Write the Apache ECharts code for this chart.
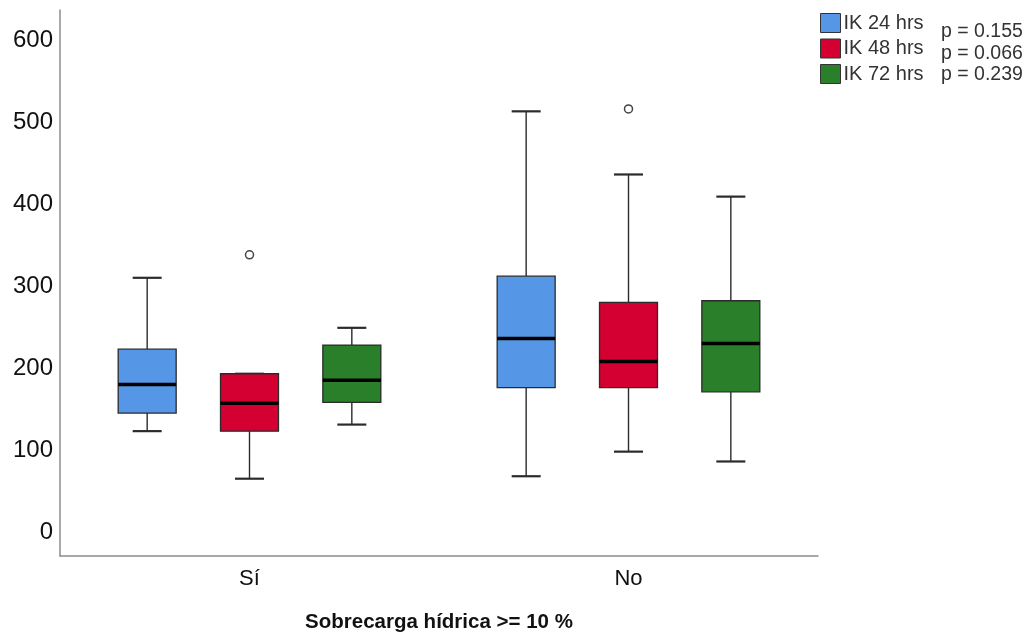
<!DOCTYPE html>
<html>
<head>
<meta charset="utf-8">
<script src="https://cdn.jsdelivr.net/npm/echarts@6/dist/echarts.min.js"></script>
<style>html,body{margin:0;padding:0;background:#fff}#c{width:1032px;height:638px}</style>
</head>
<body>
<div id="c"></div>
<script>
const categories = ['Sí', 'No'];
const seriesNames = ['IK 24 hrs', 'IK 48 hrs', 'IK 72 hrs'];
const pValues = ['p = 0.155', 'p = 0.066', 'p = 0.239'];
const xAxisTitle = 'Sobrecarga hídrica >= 10 %';
// [min, Q1, median, Q3, max] per category
const ik24 = [[123, 145, 180, 223, 310], [68, 176, 236, 312, 513]];
const ik48 = [[65, 123, 157, 193, 193], [98, 176, 208, 280, 436]];
const ik72 = [[131, 158, 185, 228, 249], [86, 171, 230, 282, 409]];
// outliers: [categoryIndex, value]
const out24 = [];
const out48 = [[0, 338], [1, 516]];
const out72 = [];

const colors = ['#5596E6', '#D50032', '#2A7F2A'];
const FONT = 'Liberation Sans, Arial, sans-serif';

function boxRender(k) {
  return function (params, api) {
    const cat = api.value(0);
    const band = api.size([1, 0])[0];
    const cx = api.coord([cat, 0])[0] + k * band * 0.27;
    const w = band * 0.153;
    const cap = w / 4;
    const y = i => api.coord([cat, api.value(i)])[1];
    const yMin = y(1), yQ1 = y(2), yMed = y(3), yQ3 = y(4), yMax = y(5);
    const ls = { stroke: '#2b2b2b', lineWidth: 1.4 };
    return {
      type: 'group',
      children: [
        { type: 'line', shape: { x1: cx, y1: yQ3, x2: cx, y2: yMax }, style: ls },
        { type: 'line', shape: { x1: cx, y1: yQ1, x2: cx, y2: yMin }, style: ls },
        { type: 'line', shape: { x1: cx - cap, y1: yMax, x2: cx + cap, y2: yMax }, style: { stroke: '#2b2b2b', lineWidth: 2.2 } },
        { type: 'line', shape: { x1: cx - cap, y1: yMin, x2: cx + cap, y2: yMin }, style: { stroke: '#2b2b2b', lineWidth: 2.2 } },
        { type: 'rect', shape: { x: cx - w / 2, y: yQ3, width: w, height: yQ1 - yQ3 },
          style: { fill: api.visual('color'), stroke: '#2b2b2b', lineWidth: 1.3 } },
        { type: 'line', shape: { x1: cx - w / 2, y1: yMed, x2: cx + w / 2, y2: yMed }, style: { stroke: '#000', lineWidth: 3.5 } }
      ]
    };
  };
}
function outRender(k) {
  return function (params, api) {
    const cat = api.value(0);
    const band = api.size([1, 0])[0];
    const p = api.coord([cat, api.value(1)]);
    return { type: 'circle', shape: { cx: p[0] + k * band * 0.27, cy: p[1], r: 4 },
      style: { fill: '#fff', stroke: '#444', lineWidth: 1.5 } };
  };
}

const boxData = [ik24, ik48, ik72];
const outData = [out24, out48, out72];
const series = [];
seriesNames.forEach((name, i) => {
  series.push({
    name, type: 'custom', xAxisIndex: 0, yAxisIndex: 0, clip: false,
    itemStyle: { color: colors[i] },
    renderItem: boxRender(i - 1),
    encode: { x: 0, y: [1, 2, 3, 4, 5] },
    data: boxData[i].map((d, c) => [c].concat(d))
  });
});
seriesNames.forEach((name, i) => {
  series.push({
    name, type: 'custom', xAxisIndex: 0, yAxisIndex: 0, clip: false,
    itemStyle: { color: colors[i] },
    renderItem: outRender(i - 1),
    encode: { x: 0, y: 1 },
    data: outData[i]
  });
});

const chart = echarts.init(document.getElementById('c'), null, { renderer: 'canvas' });
chart.setOption({
  animation: false,
  textStyle: { fontFamily: FONT },
  grid: [
    { left: 60, right: 214, top: 40, bottom: 106 },
    { left: 60, right: 214, top: 10, bottom: 81 }
  ],
  xAxis: [
    { type: 'category', gridIndex: 0, data: categories, show: false },
    { type: 'category', gridIndex: 1, data: categories,
      axisLine: { show: true, onZero: false, lineStyle: { color: '#8c8c8c', width: 1.5 } },
      axisTick: { show: false },
      axisLabel: { fontSize: 22, color: '#111', margin: 12, fontFamily: FONT },
      name: xAxisTitle, nameLocation: 'middle', nameGap: 56,
      nameTextStyle: { fontSize: 20.5, fontWeight: 'bold', color: '#111', fontFamily: FONT } }
  ],
  yAxis: [
    { type: 'value', gridIndex: 0, min: 0, max: 600, interval: 100,
      axisLine: { show: false }, axisTick: { show: false }, splitLine: { show: false },
      axisLabel: { fontSize: 24, color: '#111', margin: 7, fontFamily: FONT } },
    { type: 'value', gridIndex: 1, min: 0, max: 1,
      axisLine: { show: true, lineStyle: { color: '#8c8c8c', width: 1.5 } },
      axisTick: { show: false }, splitLine: { show: false }, axisLabel: { show: false } }
  ],
  legend: {
    data: seriesNames, orient: 'vertical', left: 820, top: 13, padding: 0,
    itemWidth: 20, itemHeight: 19, itemGap: 5.5, icon: 'rect',
    itemStyle: { borderColor: '#333', borderWidth: 1 },
    textStyle: { fontSize: 20, color: '#333', fontFamily: FONT, padding: [0, 0, 0, -2] }
  },
  graphic: pValues.map((t, i) => ({
    type: 'text', x: 941, y: 32 + i * 21.5,
    style: { text: t, font: '19.5px ' + FONT, fill: '#333', verticalAlign: 'middle' }
  })),
  series
});
</script>
</body>
</html>
